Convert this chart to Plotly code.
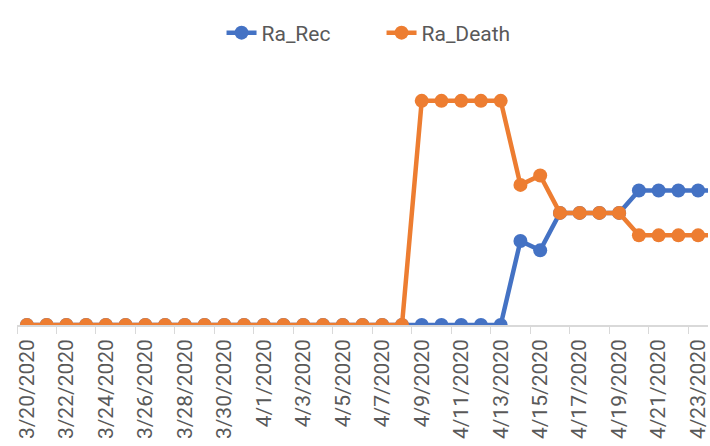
import plotly.graph_objects as go

dates = [
    "3/20/2020", "3/21/2020", "3/22/2020", "3/23/2020", "3/24/2020", "3/25/2020",
    "3/26/2020", "3/27/2020", "3/28/2020", "3/29/2020", "3/30/2020", "3/31/2020",
    "4/1/2020", "4/2/2020", "4/3/2020", "4/4/2020", "4/5/2020", "4/6/2020",
    "4/7/2020", "4/8/2020", "4/9/2020", "4/10/2020", "4/11/2020", "4/12/2020",
    "4/13/2020", "4/14/2020", "4/15/2020", "4/16/2020", "4/17/2020", "4/18/2020",
    "4/19/2020", "4/20/2020", "4/21/2020", "4/22/2020", "4/23/2020", "4/24/2020",
]

ra_rec = [0] * 25 + [0.375, 0.333, 0.5, 0.5, 0.5, 0.5, 0.6, 0.6, 0.6, 0.6, 0.6]
ra_death = [0] * 20 + [1, 1, 1, 1, 1, 0.625, 0.667, 0.5, 0.5, 0.5, 0.5, 0.4, 0.4, 0.4, 0.4, 0.4]

BLUE = "#4472C4"
ORANGE = "#ED7D31"
TEXT = "#595959"
FONT = "Roboto, sans-serif"

fig = go.Figure()
fig.add_trace(go.Scatter(
    x=dates, y=ra_rec, name="Ra_Rec", mode="lines+markers",
    line=dict(color=BLUE, width=4.5), marker=dict(color=BLUE, size=14),
))
fig.add_trace(go.Scatter(
    x=dates, y=ra_death, name="Ra_Death", mode="lines+markers",
    line=dict(color=ORANGE, width=4.5), marker=dict(color=ORANGE, size=14),
))

fig.update_layout(
    width=710, height=446,
    margin=dict(l=17, r=0, t=56, b=121),
    paper_bgcolor="white", plot_bgcolor="white",
    font=dict(family=FONT, color=TEXT, size=21),
    showlegend=True,
    legend=dict(orientation="h", x=0.296, xanchor="left", y=1.0855, yanchor="middle",
                font=dict(size=21, color=TEXT), entrywidth=115, entrywidthmode="pixels"),
    xaxis=dict(
        type="category", range=[-0.5, 34.5], tickangle=-90, dtick=2,
        ticks="outside", tickson="boundaries", ticklen=7, tickcolor="#D9D9D9",
        ticklabelstandoff=4,
        showline=True, linecolor="#D9D9D9", linewidth=1.5,
        showgrid=False, tickfont=dict(size=21, color=TEXT),
    ),
    yaxis=dict(range=[0, 1.2], visible=False, showgrid=False, zeroline=False),
)

fig.write_html("out.html")
